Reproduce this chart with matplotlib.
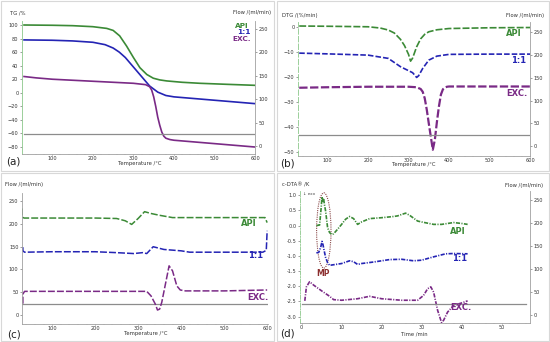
import numpy as np
import matplotlib.pyplot as plt
from matplotlib.patches import Ellipse, Rectangle

plt.rcParams['font.family'] = ['DejaVu Sans']
plt.rcParams['lines.scale_dashes'] = False

# ---- data ----
# (a) TG
tg_api_T = [30, 100, 150, 200, 234, 250, 266, 283, 300, 316, 333, 349, 365, 382, 420, 464, 530, 600]
tg_api = [100, 99.6, 99, 97.5, 95, 92, 84, 69, 52, 37, 27, 21.5, 19, 17.5, 15.5, 14, 12.5, 11]
tg_mix_T = [30, 100, 150, 200, 230, 250, 265, 280, 300, 320, 340, 360, 380, 400, 450, 500, 550, 600]
tg_mix = [78, 77.5, 76.5, 74.5, 71, 66, 60, 52, 38, 24, 10, 1, -4, -6, -8.5, -11, -13.5, -16]
tg_exc_T = [30, 60, 100, 150, 200, 250, 300, 330, 340, 345, 350, 355, 360, 365, 370, 375, 380, 390, 400, 450, 500, 550, 600]
tg_exc = [24, 22, 20, 18.5, 17, 15.5, 14, 12, 9, 4, -6, -20, -36, -48, -58, -64, -67, -69, -70, -72.5, -75, -77.5, -80]

# (b) DTG
dtg_api_T = [30, 100, 200, 230, 250, 265, 280, 290, 300, 305, 310, 320, 330, 340, 350, 370, 400, 500, 600]
dtg_api = [0.3, 0.2, 0, -0.5, -1.3, -2.5, -5, -7.5, -11, -13.7, -12.5, -8, -4.8, -3, -2, -1.2, -0.7, -0.4, -0.3]
dtg_mix_T = [30, 100, 200, 250, 280, 300, 310, 315, 320, 325, 335, 350, 370, 400, 500, 600]
dtg_mix = [-10.5, -10.8, -11.3, -12.6, -15.9, -17.5, -18.3, -19.2, -20.2, -19.5, -16.6, -13.3, -11.7, -11, -10.9, -10.9]
dtg_exc_T = [30, 100, 200, 300, 320, 330, 335, 340, 345, 350, 355, 360, 365, 370, 375, 380, 385, 390, 395, 400, 500, 600]
dtg_exc = [-24.3, -24.1, -23.9, -23.9, -24.1, -24.8, -25.9, -28.5, -33, -38.5, -43.8, -49, -45, -38, -31.8, -27, -24.9, -24.2, -23.9, -23.8, -23.8, -23.8]

# (c) Flow
fl_api_T = [30, 30, 35, 100, 200, 250, 270, 285, 300, 315, 330, 350, 380, 450, 550, 595, 600]
fl_api = [234, 215, 213, 213, 213, 212, 207, 199, 212, 227, 223, 219, 214, 214, 214, 214, 203]
fl_mix_T = [32, 32, 36, 100, 200, 250, 290, 310, 320, 335, 360, 400, 420, 500, 590, 598, 600]
fl_mix = [149, 141, 138, 139, 139, 137, 135, 137, 135, 150, 144, 141, 138, 138, 138, 142, 185]
fl_exc_T = [32, 32, 36, 100, 200, 320, 330, 340, 345, 350, 355, 365, 372, 380, 390, 398, 410, 500, 600]
fl_exc = [25, 46, 52, 52, 52, 52, 42, 24, 11, 13, 28, 75, 108, 97, 64, 55, 53, 53, 55]

# (d) c-DTA
dta_api_t = [3.7, 4.5, 4.9, 5.1, 5.3, 5.5, 5.7, 6.0, 6.5, 7, 7.5, 8, 9, 10, 11, 12, 13, 14, 15, 17, 20, 23, 24, 26, 27, 29, 30, 33, 35, 38, 40, 41.5]
dta_api = [0.0, 0.02, 0.6, 0.95, 0.8, 0.9, 0.7, 0.48, -0.07, -0.23, -0.29, -0.27, -0.12, 0.04, 0.21, 0.3, 0.23, 0.04, 0.12, 0.23, 0.26, 0.3, 0.32, 0.41, 0.34, 0.15, 0.12, 0.04, 0.04, 0.1, 0.07, 0.04]
dta_mix_t = [3.7, 4.3, 4.8, 5.1, 5.3, 5.6, 6.0, 6.5, 7, 8, 10, 12, 13, 14, 15, 18, 22, 25, 28, 30, 33, 36, 38, 41.5]
dta_mix = [-0.9, -0.88, -0.7, -0.52, -0.6, -0.8, -1.05, -1.22, -1.31, -1.29, -1.25, -1.16, -1.19, -1.28, -1.25, -1.2, -1.12, -1.11, -1.16, -1.14, -1.03, -0.93, -0.92, -0.93]
dta_exc_t = [0.8, 1.2, 2, 3, 5, 7, 8, 10, 14, 17, 20, 25, 29, 30.5, 31.5, 32.3, 33, 34, 35, 35.5, 36.5, 38, 40, 41.5]
dta_exc = [-2.48, -2.02, -1.85, -1.96, -2.15, -2.33, -2.44, -2.46, -2.41, -2.33, -2.41, -2.46, -2.46, -2.30, -2.08, -2.02, -2.19, -2.79, -3.2, -3.12, -2.85, -2.63, -2.55, -2.48]

# carrier gas flow (ml/min)
flow_T = [30, 600]
flow_t = [0, 56]
flow = [25, 25]

# ---- styling ----
W, H = 550, 342
c_api = '#3b8a36'
c_mix = '#2424b4'
c_exc = '#7a2a86'
c_flow = '#8c8c8c'
c_spine = '#a0a0a0'
c_green_spine = '#8cc88a'
tick_fs = 3.6
lab_fs = 3.8

fig = plt.figure(figsize=(W / 100, H / 100), dpi=100)


def px_axes(x0, y0, x1, y1):
    return fig.add_axes([x0 / W, 1 - y1 / H, (x1 - x0) / W, (y1 - y0) / H])


def ftext(x, y, s, **kw):
    fig.text(x / W, 1 - y / H, s, va='center', **kw)


def style(ax, left_color=c_spine, left_ls='-', right=False):
    ax.spines['top'].set_visible(False)
    ax.spines['right'].set_visible(right)
    ax.spines['left'].set_color(left_color)
    ax.spines['left'].set_linestyle(left_ls)
    ax.spines['bottom'].set_color(c_spine)
    for s in ax.spines.values():
        s.set_linewidth(0.6)
    ax.tick_params(labelsize=tick_fs, length=1.5, width=0.4, pad=1,
                   colors='#555555', labelcolor='#333333')
    ax.tick_params(axis='x', length=1, pad=0.3)
    ax.tick_params(which='minor', length=0.8, width=0.3, colors='#888888')
    ax.patch.set_alpha(0)


def flow_twin(ax, ylim):
    tw = ax.twinx()
    tw.set_ylim(*ylim)
    for k in ['top', 'left', 'bottom']:
        tw.spines[k].set_visible(False)
    tw.spines['right'].set_color(c_spine)
    tw.spines['right'].set_linewidth(0.6)
    tw.set_yticks([0, 50, 100, 150, 200, 250])
    tw.tick_params(labelsize=tick_fs, length=1.5, width=0.4, pad=1,
                   colors='#555555', labelcolor='#333333')
    return tw


# panel frames
for (x0, y0, x1, y1) in [(1, 1, 274, 171), (277, 1, 549, 171),
                         (1, 173, 274, 341), (277, 173, 549, 341)]:
    fig.patches.append(Rectangle((x0 / W, 1 - y1 / H), (x1 - x0) / W, (y1 - y0) / H,
                                 transform=fig.transFigure, fill=False,
                                 edgecolor='#d8d8d8', linewidth=0.8))

# ---- (a) TG ----
ax = px_axes(22, 21, 255, 154)
style(ax, left_color=c_green_spine)
ax.set_xlim(25, 600)
ax.set_ylim(-90.3, 105.9)
ax.set_xticks([100, 200, 300, 400, 500, 600])
ax.set_xticks(np.arange(40, 600, 20), minor=True)
ax.set_yticks(np.arange(-80, 101, 20))
tw = flow_twin(ax, (-17, 267))
tw.plot(flow_T, flow, color=c_flow, lw=0.9)
ax.plot(tg_api_T, tg_api, color=c_api, lw=1.2)
ax.plot(tg_mix_T, tg_mix, color=c_mix, lw=1.2)
ax.plot(tg_exc_T, tg_exc, color=c_exc, lw=1.2)
ftext(10, 12.7, 'TG /%', fontsize=lab_fs, color='#333333')
ftext(271, 12.7, 'Flow /(ml/min)', fontsize=lab_fs, color='#333333', ha='right')
ftext(139.5, 164, 'Temperature /°C', fontsize=lab_fs, color='#333333', ha='center')
ftext(241.7, 26.3, 'API', fontsize=5.3, color=c_api, ha='center', weight='bold')
ftext(244, 32.3, '1:1', fontsize=5.3, color=c_mix, ha='center', weight='bold')
ftext(241.5, 38.7, 'EXC.', fontsize=5.3, color=c_exc, ha='center', weight='bold')
ftext(13.5, 162, '(a)', fontsize=7.5, color='#222222', ha='center')

# ---- (b) DTG ----
ax = px_axes(298, 22, 530, 156)
style(ax, left_color=c_green_spine, left_ls=(0, (4, 1.5)))
ax.set_xlim(27, 600)
ax.set_ylim(-51.5, 1.9)
ax.set_xticks([100, 200, 300, 400, 500, 600])
ax.set_xticks(np.arange(40, 600, 20), minor=True)
ax.set_yticks([-50, -40, -30, -20, -10, 0])
tw = flow_twin(ax, (-22, 272.6))
tw.plot(flow_T, flow, color=c_flow, lw=0.9)
ax.plot(dtg_api_T, dtg_api, color=c_api, lw=1.2, ls=(0, (5, 1.5)))
ax.plot(dtg_mix_T, dtg_mix, color=c_mix, lw=1.2, ls=(0, (4, 1.5)))
ax.plot(dtg_exc_T, dtg_exc, color=c_exc, lw=1.6, ls=(0, (6, 1.8)))
ftext(282, 15.3, 'DTG /(%/min)', fontsize=lab_fs, color='#333333')
ftext(544, 15.3, 'Flow /(ml/min)', fontsize=lab_fs, color='#333333', ha='right')
ftext(414, 164.5, 'Temperature /°C', fontsize=lab_fs, color='#333333', ha='center')
ftext(514, 33.3, 'API', fontsize=6, color=c_api, ha='center', weight='bold')
ftext(518.5, 60.8, '1:1', fontsize=6, color=c_mix, ha='center', weight='bold')
ftext(517, 93.3, 'EXC.', fontsize=6, color=c_exc, ha='center', weight='bold')
ftext(287.5, 163, '(b)', fontsize=7.5, color='#222222', ha='center')

# ---- (c) Flow ----
ax = px_axes(22, 193, 268, 324)
style(ax)
ax.set_xlim(30, 602)
ax.set_ylim(-19.7, 268)
ax.set_xticks([100, 200, 300, 400, 500, 600])
ax.set_xticks(np.arange(40, 600, 20), minor=True)
ax.set_yticks([0, 50, 100, 150, 200, 250])
ax.plot(flow_T, flow, color=c_flow, lw=0.9)
ax.plot(fl_api_T, fl_api, color=c_api, lw=1.1, ls=(0, (5, 1.5)))
ax.plot(fl_mix_T, fl_mix, color=c_mix, lw=1.1, ls=(0, (5, 1.5)))
ax.plot(fl_exc_T, fl_exc, color=c_exc, lw=1.1, ls=(0, (5, 1.5)))
ftext(5, 184.3, 'Flow /(ml/min)', fontsize=lab_fs, color='#333333')
ftext(146, 333.8, 'Temperature /°C', fontsize=lab_fs, color='#333333', ha='center')
ftext(249, 223.5, 'API', fontsize=6, color=c_api, ha='center', weight='bold')
ftext(255.5, 256, '1:1', fontsize=6, color=c_mix, ha='center', weight='bold')
ftext(258, 297, 'EXC.', fontsize=6, color=c_exc, ha='center', weight='bold')
ftext(13.5, 334.3, '(c)', fontsize=7.5, color='#222222', ha='center')

# ---- (d) c-DTA ----
ax = px_axes(300, 191, 530, 322.7)
style(ax, left_color=c_green_spine, left_ls=(0, (3, 1, 0.8, 1)))
ax.set_xlim(-0.4, 57.1)
ax.set_ylim(-3.2, 1.14)
ax.set_xticks([0, 10, 20, 30, 40, 50])
ax.set_xticks(np.arange(2, 57, 2), minor=True)
ax.set_yticks(np.arange(-3.0, 1.01, 0.5))
ax.set_yticklabels(['%.1f' % v for v in np.arange(-3.0, 1.01, 0.5)])
tw = flow_twin(ax, (-16.8, 270))
tw.plot(flow_t, flow, color=c_flow, lw=0.9)
dd = (0, (3, 1, 0.8, 1))
ax.plot(dta_api_t, dta_api, color=c_api, lw=1.2, ls=dd)
ax.plot(dta_mix_t, dta_mix, color=c_mix, lw=1.2, ls=dd)
ax.plot(dta_exc_t, dta_exc, color=c_exc, lw=1.2, ls=dd)
ax.add_patch(Ellipse((5.55, -0.16), 3.6, 2.48, fill=False, edgecolor='#8b4b4b',
                     lw=0.8, ls=(0, (0.8, 0.8))))
ax.text(5.3, -1.57, 'MP', fontsize=5.5, color='#8b2e2e', weight='bold',
        ha='center', va='center')
ax.text(0.4, 1.03, '↓ exo', fontsize=3, color='#444444', va='center')
ftext(282, 185.3, 'c-DTA® /K', fontsize=lab_fs, color='#333333')
ftext(543, 185.3, 'Flow /(ml/min)', fontsize=lab_fs, color='#333333', ha='right')
ftext(414.5, 333.5, 'Time /min', fontsize=lab_fs, color='#333333', ha='center')
ftext(458, 232, 'API', fontsize=6, color=c_api, ha='center', weight='bold')
ftext(460, 258.5, '1:1', fontsize=6, color=c_mix, ha='center', weight='bold')
ftext(460.5, 307.7, 'EXC.', fontsize=6, color=c_exc, ha='center', weight='bold')
ftext(287.5, 334, '(d)', fontsize=7.5, color='#222222', ha='center')

fig.savefig('out.png', dpi=100)
